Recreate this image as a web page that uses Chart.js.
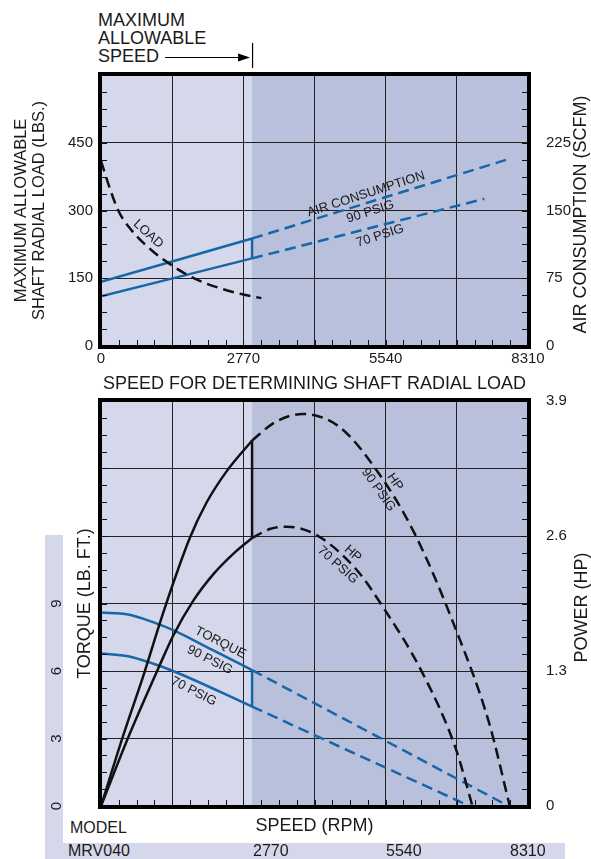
<!DOCTYPE html>
<html>
<head>
<meta charset="utf-8">
<script src="https://cdn.jsdelivr.net/npm/chart.js@4.4.0/dist/chart.umd.min.js"></script>
<style>
  html, body { margin: 0; padding: 0; background: #fff; }
  body { width: 591px; height: 859px; position: relative; overflow: hidden;
         font-family: "Liberation Sans", Arial, sans-serif; color: #1a1a1a; }
  .abs { position: absolute; white-space: nowrap; }
  #top { position: absolute; left: 0; top: 0; }
  #bottom { position: absolute; left: 0; top: 395px; }
  #head { left: 98px; top: 11px; font-size: 18px; line-height: 18px; }
  #stripL { left: 45px; top: 535px; width: 18px; height: 324px; background: #d5d8eb; }
  #stripB { left: 45px; top: 843px; width: 520px; height: 16px; background: #d5d8eb; }
  .row { font-size: 16px; line-height: 16px; top: 843px; }
</style>
</head>
<body>
<div id="stripL" class="abs"></div>
<div id="stripB" class="abs"></div>
<div id="head" class="abs">MAXIMUM<br>ALLOWABLE<br>SPEED</div>
<div class="abs" style="left:70px; top:819px; font-size:16px; line-height:18px;">MODEL</div>
<div class="abs row" style="left:68px;">MRV040</div>
<canvas id="top" width="591" height="395"></canvas>
<canvas id="bottom" width="591" height="464"></canvas>
<script>
var speedTicks = [0, 2770, 5540, 8310];
var maxSpeed = 2940;

// shaft load (lbs) and air consumption (scfm)
var loadRpm = [0, 142, 336, 596, 984, 1373, 1825, 2343, 2732, 3120];
var loadLbs = [410, 359, 300, 256, 212, 179, 149, 127, 115, 106];
var air90Rpm = [0, 2940, 7880];
var air90 = [71, 119, 206];
var air70Rpm = [0, 2940, 7460];
var air70 = [55, 97, 163];

// torque (lb ft) and power (hp)
var tq90Rpm = [0, 530, 1049, 1404, 2149, 2940, 7930];
var tq90 = [8.6, 8.51, 8.14, 7.82, 6.96, 6.04, 0];
var tq70Rpm = [0, 530, 1049, 1404, 2940, 7170];
var tq70 = [6.78, 6.66, 6.30, 6.0, 4.42, 0];
var hp90Rpm = [0, 433, 841, 1210, 1728, 2052, 2440, 2940, 3400, 3928, 4640, 5353, 6097, 6906, 7553, 7955];
var hp90 = [0, 0.68, 1.28, 1.86, 2.58, 2.92, 3.22, 3.52, 3.70, 3.775, 3.65, 3.24, 2.63, 1.70, 0.80, 0];
var hp70Rpm = [0, 563, 1146, 1404, 1800, 2200, 2600, 2940, 3300, 3605, 4188, 4965, 5482, 6258, 6906, 7229];
var hp70 = [0, 0.70, 1.36, 1.64, 1.98, 2.24, 2.44, 2.58, 2.67, 2.69, 2.61, 2.28, 1.92, 1.28, 0.55, 0];

var BLUE = '#1766a8', BLACK = '#111';
var FONT = '"Liberation Sans", Arial, sans-serif';

function pts(xs, ys, keep) {
    return xs.map(function (x, i) { return { x: x, y: ys[i] }; })
             .filter(function (p) { return keep ? keep(p.x) : true; });
}
function solid(x) { return x <= maxSpeed; }
function ext(x) { return x >= maxSpeed; }
function atMax(xs, ys) { return ys[xs.indexOf(maxSpeed)]; }

function line(data, axis, color, dashed) {
    return {
        data: data, yAxisID: axis, borderColor: color, borderWidth: 2.5,
        borderDash: dashed ? [11, 6] : [], pointRadius: 0, fill: false,
        cubicInterpolationMode: 'monotone'
    };
}
function link(a, b, axis, color) {
    return {
        data: [{ x: maxSpeed, y: a }, { x: maxSpeed, y: b }], yAxisID: axis,
        borderColor: color, borderWidth: 2.5, pointRadius: 0, tension: 0, fill: false
    };
}

var decor = {
    id: 'decor',
    beforeDraw: function (chart) {
        var ctx = chart.ctx, a = chart.chartArea;
        var split = chart.scales.x.getPixelForValue(maxSpeed);
        ctx.save();
        ctx.fillStyle = '#d5d8eb';
        ctx.fillRect(a.left, a.top, a.width, a.height);
        ctx.fillStyle = '#b9c0dc';
        ctx.fillRect(split, a.top, a.right - split, a.height);
        ctx.restore();
    },
    afterDraw: function (chart, args, o) {
        var ctx = chart.ctx, a = chart.chartArea, s = chart.scales;
        ctx.save();
        // little inward ticks on left, right and bottom edges
        ctx.strokeStyle = BLACK;
        ctx.lineWidth = 1;
        ctx.beginPath();
        for (var v = 0; v <= s.x.max + 1e-6; v += o.minorX) {
            var px = Math.round(s.x.getPixelForValue(v)) + 0.5;
            ctx.moveTo(px, a.bottom); ctx.lineTo(px, a.bottom - 6);
        }
        for (var w = 0; w <= s.y.max + 1e-6; w += o.minorY) {
            var py = Math.round(s.y.getPixelForValue(w)) + 0.5;
            ctx.moveTo(a.left, py); ctx.lineTo(a.left + 6, py);
            ctx.moveTo(a.right, py); ctx.lineTo(a.right - 6, py);
        }
        ctx.stroke();
        // heavy frame
        ctx.lineWidth = 4;
        ctx.strokeStyle = '#000';
        ctx.strokeRect(a.left - 1, a.top - 1, a.width + 2, a.height + 2);
        // curve labels
        ctx.fillStyle = '#1a1a1a';
        ctx.font = '13px ' + FONT;
        ctx.textAlign = 'center';
        ctx.textBaseline = 'middle';
        o.notes.forEach(function (n) {
            ctx.save();
            ctx.translate(s.x.getPixelForValue(n.x), s[n.axis].getPixelForValue(n.y));
            ctx.rotate(n.angle * Math.PI / 180);
            ctx.fillText(n.text, 0, 0);
            ctx.restore();
        });
        // right hand axis title, reading upwards like the left one
        if (o.sideTitle) {
            ctx.save();
            ctx.font = '18px ' + FONT;
            ctx.translate(o.sideTitle.x, (a.top + a.bottom) / 2 + o.sideTitle.dy);
            ctx.rotate(-Math.PI / 2);
            ctx.fillText(o.sideTitle.text, 0, 0);
            ctx.restore();
        }
        // "maximum allowable speed" arrow
        if (o.arrow) {
            var mx = s.x.getPixelForValue(maxSpeed);
            ctx.lineWidth = 1.2;
            ctx.beginPath();
            ctx.moveTo(o.arrow.from, o.arrow.y + 0.5);
            ctx.lineTo(mx - 8, o.arrow.y + 0.5);
            ctx.stroke();
            ctx.fillStyle = '#000';
            ctx.beginPath();
            ctx.moveTo(mx - 14, o.arrow.y - 3.5);
            ctx.lineTo(mx - 2, o.arrow.y + 0.5);
            ctx.lineTo(mx - 14, o.arrow.y + 4.5);
            ctx.closePath();
            ctx.fill();
            ctx.beginPath();
            ctx.moveTo(mx + 0.5, o.arrow.y - 14);
            ctx.lineTo(mx + 0.5, o.arrow.y + 11);
            ctx.stroke();
        }
        ctx.restore();
    }
};

var tickFont = { family: FONT, size: 15 };
var titleFont = { family: FONT, size: 18 };
var gridOpt = { color: '#222', lineWidth: 1, drawTicks: false };

// fixed box sizes so both plot frames land where the original has them
function fixW(w) {
    return function (sc) { sc.width = w; sc.paddingTop = 0; sc.paddingBottom = 0; };
}
function fixH(h) {
    return function (sc) { sc.height = h; sc.paddingLeft = 0; sc.paddingRight = 0; };
}

function xAxis(height, showLabels, title, pad) {
    return {
        type: 'linear', min: 0, max: speedTicks[speedTicks.length - 1],
        grid: gridOpt, border: { display: false },
        ticks: {
            stepSize: speedTicks[1] / 2, padding: 4, font: tickFont, color: '#1a1a1a',
            callback: function (v) { return showLabels && speedTicks.indexOf(v) >= 0 ? String(v) : ''; }
        },
        title: { display: true, text: title, font: titleFont, color: '#1a1a1a', padding: { top: 0, bottom: pad } },
        afterFit: fixH(height)
    };
}

new Chart(document.getElementById('top'), {
    type: 'line',
    data: {
        datasets: [
            line(pts(loadRpm, loadLbs), 'y', BLACK, true),
            line(pts(air90Rpm, air90, solid), 'y2', BLUE, false),
            line(pts(air90Rpm, air90, ext), 'y2', BLUE, true),
            line(pts(air70Rpm, air70, solid), 'y2', BLUE, false),
            line(pts(air70Rpm, air70, ext), 'y2', BLUE, true),
            link(atMax(air90Rpm, air90), atMax(air70Rpm, air70), 'y2', BLUE)
        ]
    },
    options: {
        responsive: false,
        animation: false,
        layout: { padding: { top: 75, left: 0, right: 0, bottom: 0 }, autoPadding: false },
        plugins: {
            legend: { display: false },
            tooltip: { enabled: false },
            decor: {
                minorX: speedTicks[1] / 8, minorY: 37.5,
                arrow: { from: 165, y: 57 },
                sideTitle: { text: 'AIR CONSUMPTION (SCFM)', x: 581, dy: 4 },
                notes: [
                    { text: 'AIR CONSUMPTION', x: 5159, y: 168, axis: 'y2', angle: -18 },
                    { text: '90 PSIG', x: 5242, y: 148.5, axis: 'y2', angle: -18 },
                    { text: '70 PSIG', x: 5431, y: 122, axis: 'y2', angle: -18 },
                    { text: 'LOAD', x: 919, y: 248, axis: 'y', angle: 42 }
                ]
            }
        },
        scales: {
            x: xAxis(49, true, 'SPEED FOR DETERMINING SHAFT RADIAL LOAD', 0),
            y: {
                min: 0, max: 600, grid: gridOpt, border: { display: false },
                ticks: {
                    stepSize: 150, padding: 8, font: tickFont, color: '#1a1a1a',
                    callback: function (v) { return v < 600 ? String(v) : ''; }
                },
                title: {
                    display: true, text: ['MAXIMUM ALLOWABLE', 'SHAFT RADIAL LOAD (LBS.)'],
                    font: { family: FONT, size: 16.5, lineHeight: 1.05 }, color: '#1a1a1a',
                    padding: { top: 13, bottom: 0 }
                },
                afterFit: fixW(101)
            },
            y2: {
                position: 'right', min: 0, max: 300, grid: { display: false }, border: { display: false },
                ticks: {
                    stepSize: 75, padding: 10, font: tickFont, color: '#1a1a1a',
                    callback: function (v) { return v < 300 ? String(v) : ''; }
                },
                afterFit: fixW(63)
            }
        }
    },
    plugins: [decor]
});

new Chart(document.getElementById('bottom'), {
    type: 'line',
    data: {
        datasets: [
            line(pts(hp90Rpm, hp90, solid), 'y2', BLACK, false),
            line(pts(hp90Rpm, hp90, ext), 'y2', BLACK, true),
            line(pts(hp70Rpm, hp70, solid), 'y2', BLACK, false),
            line(pts(hp70Rpm, hp70, ext), 'y2', BLACK, true),
            link(atMax(hp90Rpm, hp90), atMax(hp70Rpm, hp70), 'y2', BLACK),
            line(pts(tq90Rpm, tq90, solid), 'y', BLUE, false),
            line(pts(tq90Rpm, tq90, ext), 'y', BLUE, true),
            line(pts(tq70Rpm, tq70, solid), 'y', BLUE, false),
            line(pts(tq70Rpm, tq70, ext), 'y', BLUE, true),
            link(atMax(tq90Rpm, tq90), atMax(tq70Rpm, tq70), 'y', BLUE)
        ]
    },
    options: {
        responsive: false,
        animation: false,
        layout: { padding: { top: 6, left: 0, right: 0, bottom: 0 }, autoPadding: false },
        plugins: {
            legend: { display: false },
            tooltip: { enabled: false },
            decor: {
                minorX: speedTicks[1] / 8, minorY: 0.75,
                sideTitle: { text: 'POWER (HP)', x: 582, dy: 4 },
                notes: [
                    { text: 'TORQUE', x: 2324, y: 7.26, axis: 'y', angle: 27 },
                    { text: '90 PSIG', x: 2116, y: 6.49, axis: 'y', angle: 27 },
                    { text: '70 PSIG', x: 1806, y: 5.09, axis: 'y', angle: 27 },
                    { text: 'HP', x: 5721, y: 3.12, axis: 'y2', angle: 55 },
                    { text: '90 PSIG', x: 5398, y: 3.045, axis: 'y2', angle: 55 },
                    { text: 'HP', x: 4899, y: 2.43, axis: 'y2', angle: 42 },
                    { text: '70 PSIG', x: 4608, y: 2.32, axis: 'y2', angle: 42 }
                ]
            }
        },
        scales: {
            x: xAxis(53, false, 'SPEED (RPM)', 22),
            y: {
                min: 0, max: 18, grid: gridOpt, border: { display: false },
                ticks: {
                    stepSize: 3, padding: 40, font: tickFont, color: '#1a1a1a',
                    minRotation: 90, maxRotation: 90, crossAlign: 'center',
                    callback: function (v) { return v <= 9 ? String(v) : ''; }
                },
                title: { display: true, text: 'TORQUE (LB. FT.)', font: titleFont, color: '#1a1a1a', padding: { top: 74, bottom: 0 } },
                afterFit: fixW(101)
            },
            y2: {
                position: 'right', min: 0, max: 3.9, grid: { display: false }, border: { display: false },
                ticks: {
                    stepSize: 0.65, padding: 10, font: tickFont, color: '#1a1a1a',
                    callback: function (v, i) { return i % 2 ? '' : String(Math.round(v * 10) / 10); }
                },
                afterFit: fixW(63)
            }
        }
    },
    plugins: [decor]
});

// model row under the bottom chart
var rowLeft = [253, 386, 510];
speedTicks.slice(1).forEach(function (v, i) {
    var d = document.createElement('div');
    d.className = 'abs row';
    d.style.left = rowLeft[i] + 'px';
    d.textContent = String(v);
    document.body.appendChild(d);
});
</script>
</body>
</html>
